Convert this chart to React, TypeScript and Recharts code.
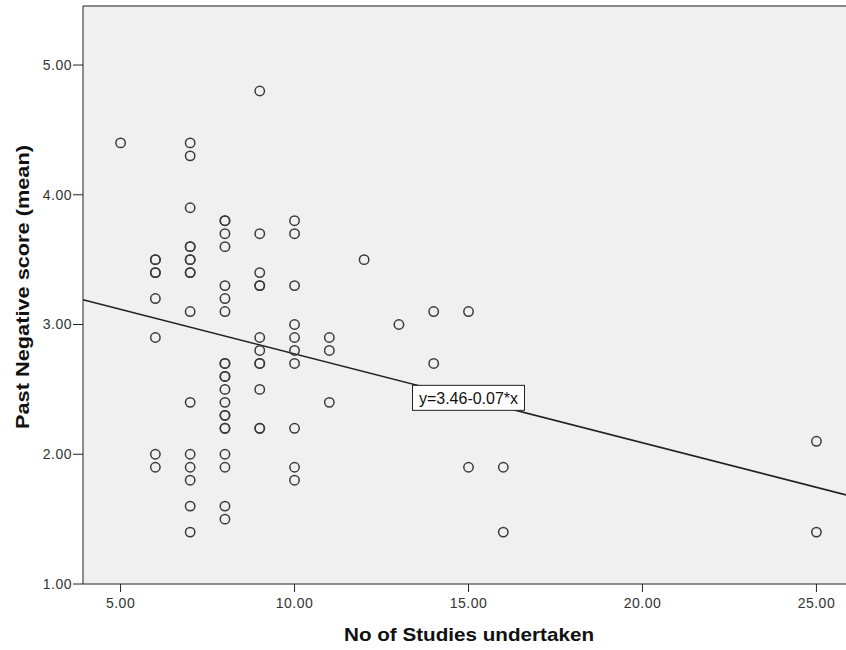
import { ScatterChart, Scatter, XAxis, YAxis, CartesianGrid, ReferenceLine, ReferenceDot } from 'recharts';

// study counts and the mean past negative score of each respondent at that count
const studyCounts = [5, 6, 7, 8, 9, 10, 11, 12, 13, 14, 15, 16, 25];
const scoresAt5 = [4.4];
const scoresAt6 = [3.5, 3.5, 3.4, 3.4, 3.2, 2.9, 2.0, 1.9];
const scoresAt7 = [4.4, 4.3, 3.9, 3.6, 3.6, 3.5, 3.5, 3.4, 3.4, 3.1, 2.4, 2.0, 1.9, 1.8, 1.6, 1.4];
const scoresAt8 = [3.8, 3.8, 3.7, 3.6, 3.3, 3.2, 3.1, 2.7, 2.7, 2.6, 2.6, 2.5, 2.4, 2.3, 2.3, 2.2, 2.2, 2.0, 1.9, 1.6, 1.5];
const scoresAt9 = [4.8, 3.7, 3.4, 3.3, 3.3, 2.9, 2.8, 2.7, 2.7, 2.5, 2.2, 2.2];
const scoresAt10 = [3.8, 3.7, 3.3, 3.0, 2.9, 2.8, 2.7, 2.2, 1.9, 1.8];
const scoresAt11 = [2.9, 2.8, 2.4];
const scoresAt12 = [3.5];
const scoresAt13 = [3.0];
const scoresAt14 = [3.1, 2.7];
const scoresAt15 = [3.1, 1.9];
const scoresAt16 = [1.9, 1.4];
const scoresAt25 = [2.1, 1.4];

const scoreGroups = [scoresAt5, scoresAt6, scoresAt7, scoresAt8, scoresAt9, scoresAt10, scoresAt11,
  scoresAt12, scoresAt13, scoresAt14, scoresAt15, scoresAt16, scoresAt25];

const xTicks = [5, 10, 15, 20, 25];
const yTicks = [1, 2, 3, 4, 5];

// fitted line, as printed on the chart
const fitIntercept = 3.46;
const fitSlope = -0.0686;
const fitLabel = 'y=3.46-0.07*x';
const fitLabelAt = 15;

const xDomain = [3.92, 25.85];
const yDomain = [1, 5.455];

const points = studyCounts.flatMap((n, i) => scoreGroups[i].map(s => ({ studies: n, score: s })));
const fit = (x: number) => fitIntercept + fitSlope * x;

const font = '"Liberation Sans", Arial, sans-serif';
const tickStyle = { fill: '#333', fontSize: 14, fontFamily: font, letterSpacing: 0.5 };

const Ring = (p: any) => (
  <circle cx={p.cx} cy={p.cy} r={4.7} fill="none" stroke="#3a3a3a" strokeWidth={1.5} />
);

const FitBox = (p: any) => (
  <g>
    <rect x={p.cx - 56} y={p.cy - 13} width={112} height={25} fill="#fff" stroke="#222" strokeWidth={1} />
    <text x={p.cx} y={p.cy} textAnchor="middle" dominantBaseline="central"
      fontFamily={font} fontSize={16} fill="#111">{fitLabel}</text>
  </g>
);

export default function App() {
  return (
    <div style={{ position: 'absolute', left: 0, top: 0, width: 846, height: 650, overflow: 'hidden', background: '#fff' }}>
      <ScatterChart width={846} height={650} margin={{ top: 6, right: 0, bottom: 16, left: 23 }}>
        <CartesianGrid fill="#F0F0F0" horizontal={false} vertical={false} />
        <XAxis type="number" dataKey="studies" domain={xDomain} ticks={xTicks} allowDataOverflow
          tickFormatter={(v: number) => v.toFixed(2)} height={50} tickSize={8} tickMargin={6}
          axisLine={{ stroke: '#222' }} tickLine={{ stroke: '#222' }} tick={tickStyle}
          label={{
            content: () => (
              <text x={469} y={634} textAnchor="middle" dominantBaseline="central" fontFamily={font}
                fontWeight="bold" fontSize={19} fill="#111" textLength={250} lengthAdjust="spacingAndGlyphs">
                No of Studies undertaken
              </text>
            ),
          }} />
        <YAxis type="number" dataKey="score" domain={yDomain} ticks={yTicks} allowDataOverflow
          tickFormatter={(v: number) => v.toFixed(2)} width={60} tickSize={10} tickMargin={1}
          axisLine={{ stroke: '#222' }} tickLine={{ stroke: '#222' }} tick={tickStyle}
          label={{
            content: () => (
              <text x={22} y={287} transform="rotate(-90 22 287)" textAnchor="middle" dominantBaseline="central"
                fontFamily={font} fontWeight="bold" fontSize={19} fill="#111" textLength={284} lengthAdjust="spacingAndGlyphs">
                Past Negative score (mean)
              </text>
            ),
          }} />
        <ReferenceLine y={yDomain[1]} stroke="#666" strokeWidth={1.5} />
        <ReferenceLine segment={[{ x: xDomain[0], y: fit(xDomain[0]) }, { x: xDomain[1], y: fit(xDomain[1]) }]}
          stroke="#222" strokeWidth={1.6} />
        <Scatter data={points} shape={Ring} isAnimationActive={false} />
        <ReferenceDot x={fitLabelAt} y={fit(fitLabelAt)} shape={FitBox} />
      </ScatterChart>
    </div>
  );
}
